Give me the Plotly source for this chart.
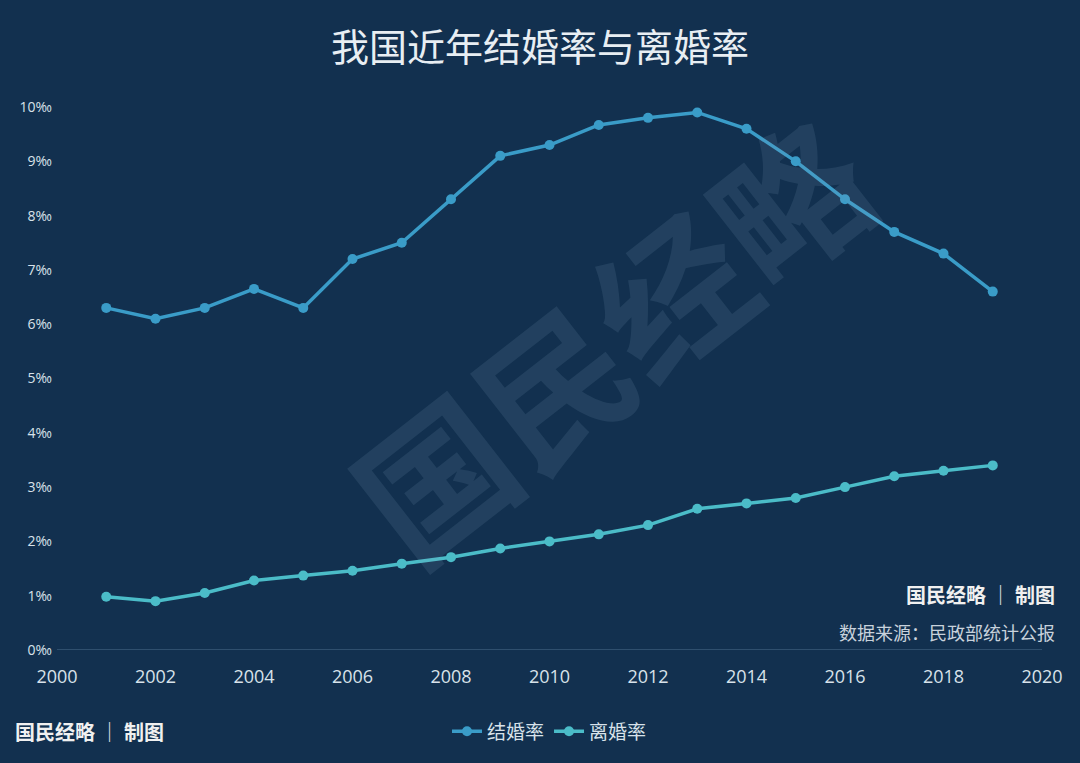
import plotly.graph_objects as go

years = list(range(2001, 2020))
marriage = [6.3, 6.1, 6.3, 6.65, 6.3, 7.2, 7.5, 8.3, 9.1, 9.3, 9.67, 9.8, 9.9, 9.6, 9.0, 8.3, 7.7, 7.3, 6.6]
divorce = [0.98, 0.9, 1.05, 1.28, 1.37, 1.46, 1.59, 1.71, 1.87, 2.0, 2.13, 2.3, 2.6, 2.7, 2.8, 3.0, 3.2, 3.3, 3.4]
ytick_vals = list(range(0, 11))
ytick_text = [f"{v}‰" for v in ytick_vals]

FONT = "Noto Sans CJK SC"
fig = go.Figure()
fig.add_trace(go.Scatter(x=years, y=marriage, name="结婚率", mode="lines+markers",
                         line=dict(color="#3a9cc8", width=3.5), marker=dict(size=10, color="#3a9cc8")))
fig.add_trace(go.Scatter(x=years, y=divorce, name="离婚率", mode="lines+markers",
                         line=dict(color="#4bbcc8", width=3.5), marker=dict(size=10, color="#4bbcc8")))

fig.update_layout(
    width=1080, height=763,
    paper_bgcolor="#12304f", plot_bgcolor="#12304f",
    font=dict(family=FONT, color="#d8e2ea"),
    title=dict(text="我国近年结婚率与离婚率", x=0.5, xanchor="center", y=0.938, yanchor="middle",
               font=dict(size=38, color="#e8eef3", family=FONT)),
    margin=dict(l=57, r=38, t=107, b=99),
    xaxis=dict(range=[2000, 2020], dtick=2, showgrid=False, zeroline=False, showline=False,
               tickfont=dict(size=18, color="#d8e2ea", family="Open Sans"), ticks="",
               ticklabelstandoff=14),
    yaxis=dict(range=[0, 10], tickvals=ytick_vals, ticktext=ytick_text, showgrid=False, zeroline=False,
               tickfont=dict(size=14, color="#d8e2ea", family="Open Sans"), ticks="",
               ticklabelstandoff=4),
    legend=dict(orientation="h", x=0.5, xanchor="center", y=-0.115, yanchor="top",
                font=dict(size=19, color="#d8e2ea"), bgcolor="rgba(0,0,0,0)"),
    showlegend=True,
)
fig.add_shape(type="line", xref="paper", yref="y", x0=0, x1=1, y0=0, y1=0,
              line=dict(color="#3a5a78", width=1.5))
fig.add_annotation(text="<b>国民经略</b>", xref="paper", yref="paper", x=0.56, y=0.58, showarrow=False,
                   textangle=-38, font=dict(size=150, color="rgba(130,160,185,0.15)", family=FONT))
fig.add_annotation(text="<b>国民经略 │ 制图</b>", xref="paper", yref="paper", x=1.015, y=0.072,
                   xanchor="right", showarrow=False, font=dict(size=20, color="#f0f0f0", family=FONT))
fig.add_annotation(text="数据来源：民政部统计公报", xref="paper", yref="paper", x=1.015, y=0.005,
                   xanchor="right", showarrow=False, font=dict(size=18, color="#c8d2dc", family=FONT))
fig.add_annotation(text="<b>国民经略 │ 制图</b>", xref="paper", yref="paper", x=-0.045, y=-0.12,
                   xanchor="left", yanchor="top", showarrow=False,
                   font=dict(size=20, color="#f0f0f0", family=FONT))
fig.write_html("out.html", config={"displayModeBar": False},
               post_script="document.body.style.margin='0';document.body.style.background='#12304f';")
